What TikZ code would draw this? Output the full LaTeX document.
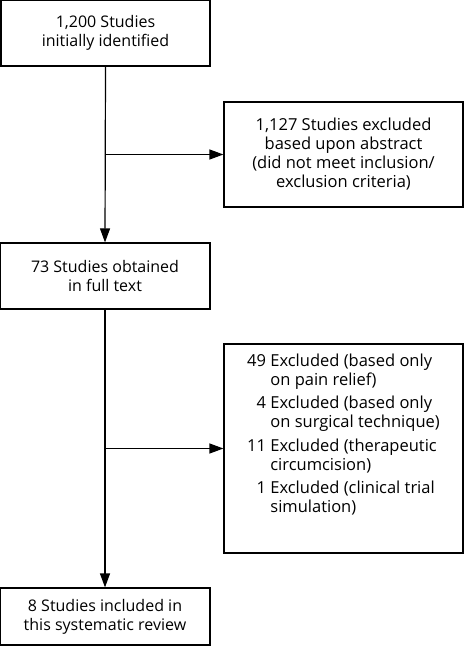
\documentclass[tikz,border=0pt]{standalone}
\usepackage{fontspec}
\setmainfont{Open Sans}
\usetikzlibrary{arrows.meta,positioning}
\tikzset{
  stage/.style={draw, line width=1.2pt, align=center, inner sep=4pt, minimum width=#1, font=\fontsize{16}{19}\selectfont},
  drop/.style={draw, line width=1.2pt, align=center, inner sep=4pt, minimum width=239pt, font=\fontsize{16.5}{19}\selectfont},
  flow/.style={-{Triangle[length=14pt,width=10pt]}, line width=1.2pt},
}

\begin{document}
\begin{tikzpicture}[x=1pt,y=-1pt]
  \useasboundingbox (0,0) rectangle (465,655);
  % main stages
  \node[stage=209pt, minimum height=66pt] (init) at (105.5,33) {1,200 Studies\\ initially identified};
  \node[stage=210pt, minimum height=66pt] (full) at (105,276) {73 Studies obtained\\ in full text};
  \node[stage=210pt, minimum height=57pt] (incl) at (105,616.5) {8 Studies included in\\ this systematic review};
  % exclusions
  \node[drop, minimum height=105pt] (excla) at (343.5,154.5) {1,127 Studies excluded\\ based upon abstract\\ (did not meet inclusion/\\ exclusion criteria)};
  \node[drop, minimum height=209pt] (exclb) at (343.5,448.5) {%
    \raisebox{13pt}[\height][\depth]{\baselineskip=18pt
    \begin{tabular}{@{}r@{\ }l@{}}
      49 & Excluded (based only\\
         & on pain relief)\\[4.5pt]
      4  & Excluded (based only\\
         & on surgical technique)\\[4.5pt]
      11 & Excluded (therapeutic\\
         & circumcision)\\[4.5pt]
      1  & Excluded (clinical trial\\
         & simulation)
    \end{tabular}}};
  % connectors
  \coordinate (ja) at (init.south |- excla.west);
  \coordinate (jb) at (full.south |- exclb.west);
  \draw[flow] (init.south) -- (full.north);
  \draw[flow] (ja) -- (excla.west);
  \draw[flow] (full.south) -- (incl.north);
  \draw[flow] (jb) -- (exclb.west);
\end{tikzpicture}
\end{document}
